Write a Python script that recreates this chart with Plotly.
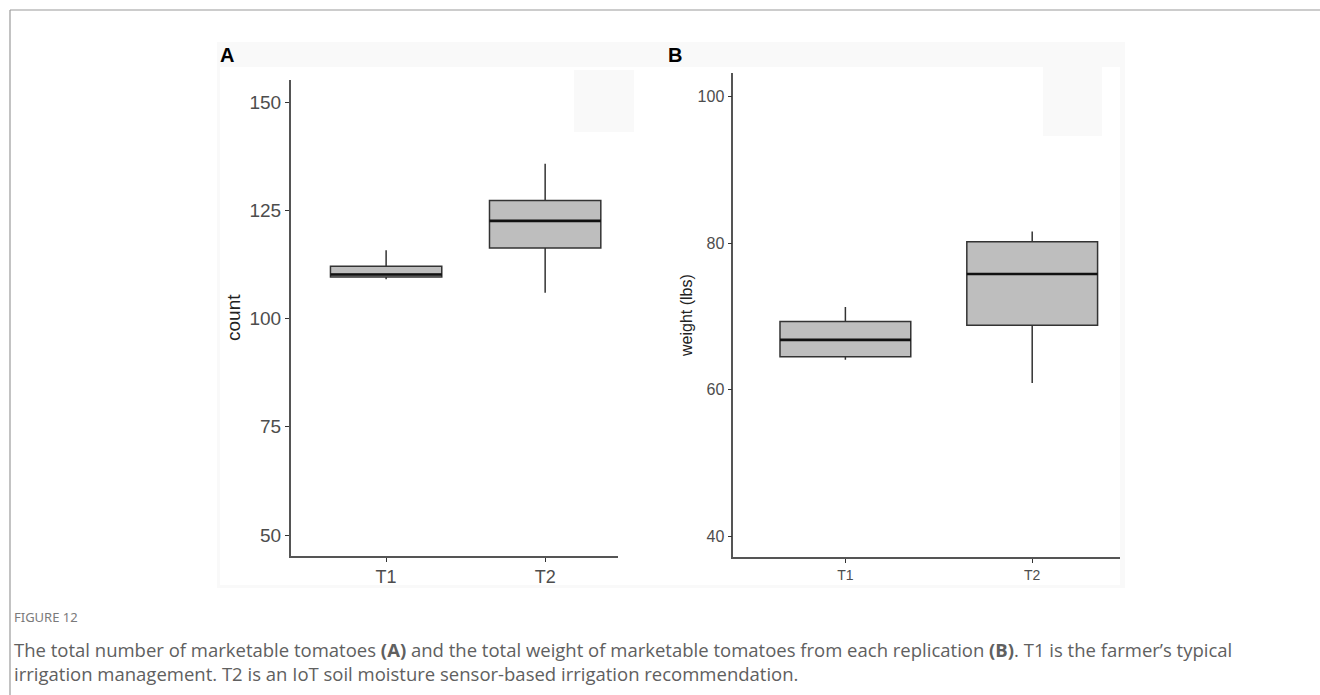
import plotly.graph_objects as go

W, H = 1320, 695

# ---------------- data ----------------
treatments = ["T1", "T2"]

# Panel A: total number of marketable tomatoes (count)
count_lower = [109.1, 106.0]
count_q1 = [109.6, 116.3]
count_median = [110.2, 122.6]
count_q3 = [112.1, 127.3]
count_upper = [115.8, 135.8]
count_ticks = [50, 75, 100, 125, 150]

# Panel B: total weight of marketable tomatoes (lbs)
weight_lower = [64.1, 60.9]
weight_q1 = [64.5, 68.8]
weight_median = [66.8, 75.8]
weight_q3 = [69.3, 80.2]
weight_upper = [71.3, 81.6]
weight_ticks = [40, 60, 80, 100]

caption_label = "FIGURE 12"
caption_text = ("The total number of marketable tomatoes <b>(A)</b> and the total weight of marketable "
                "tomatoes from each replication <b>(B)</b>. T1 is the farmer\u2019s typical<br>"
                "irrigation management. T2 is an IoT soil moisture sensor-based irrigation recommendation.")

BOX_WIDTH = 0.7


def px(x):
    return x / W


def py(y):
    return 1 - y / H


fig = go.Figure()

fig.add_trace(go.Box(
    x=treatments, q1=count_q1, median=count_median, q3=count_q3,
    lowerfence=count_lower, upperfence=count_upper,
    fillcolor="#bebebe", line=dict(color="#333333", width=1.5),
    whiskerwidth=0, boxpoints=False, hoverinfo="y",
    xaxis="x", yaxis="y", showlegend=False,
))
fig.add_trace(go.Box(
    x=treatments, q1=weight_q1, median=weight_median, q3=weight_q3,
    lowerfence=weight_lower, upperfence=weight_upper,
    fillcolor="#bebebe", line=dict(color="#333333", width=1.5),
    whiskerwidth=0, boxpoints=False, hoverinfo="y",
    xaxis="x2", yaxis="y2", showlegend=False,
))

shapes = []
# figure image backdrop
shapes.append(dict(type="rect", xref="paper", yref="paper", x0=px(217), x1=px(1125), y0=py(588), y1=py(42),
                   fillcolor="#f9f9f9", line=dict(width=0), layer="below"))
shapes.append(dict(type="rect", xref="paper", yref="paper", x0=px(220), x1=px(1120), y0=py(585), y1=py(67),
                   fillcolor="#ffffff", line=dict(width=0), layer="below"))
shapes.append(dict(type="rect", xref="paper", yref="paper", x0=px(574), x1=px(634), y0=py(132), y1=py(70),
                   fillcolor="#f9f9f9", line=dict(width=0), layer="below"))
shapes.append(dict(type="rect", xref="paper", yref="paper", x0=px(1043), x1=px(1102), y0=py(136), y1=py(67),
                   fillcolor="#f9f9f9", line=dict(width=0), layer="below"))
# page frame (top and left)
shapes.append(dict(type="line", xref="paper", yref="paper", x0=px(10), x1=1, y0=py(10), y1=py(10),
                   line=dict(color="#9a9a9a", width=1.2)))
shapes.append(dict(type="line", xref="paper", yref="paper", x0=px(10), x1=px(10), y0=0, y1=py(10),
                   line=dict(color="#9a9a9a", width=1.2)))

# thicker median lines (ggplot style), from data
for xa, ya, med in (("x", "y", count_median), ("x2", "y2", weight_median)):
    for i, m in enumerate(med):
        shapes.append(dict(type="line", xref=xa, yref=ya, x0=i - BOX_WIDTH / 2, x1=i + BOX_WIDTH / 2,
                           y0=m, y1=m, line=dict(color="#111111", width=2.6)))

annotations = [
    dict(text="<b>A</b>", x=px(218), y=py(55), xref="paper", yref="paper", xanchor="left", yanchor="middle",
         showarrow=False, font=dict(family="Arial, Liberation Sans", size=20, color="#000000")),
    dict(text="<b>B</b>", x=px(666), y=py(55), xref="paper", yref="paper", xanchor="left", yanchor="middle",
         showarrow=False, font=dict(family="Arial, Liberation Sans", size=20, color="#000000")),
    dict(text="count", x=px(233), y=py(318), xref="paper", yref="paper", textangle=-90,
         xanchor="center", yanchor="middle", showarrow=False,
         font=dict(family="Arial, Liberation Sans", size=19, color="#222222")),
    dict(text="weight (lbs)", x=px(686), y=py(316), xref="paper", yref="paper", textangle=-90,
         xanchor="center", yanchor="middle", showarrow=False,
         font=dict(family="Arial, Liberation Sans", size=16, color="#222222")),
    dict(text=caption_label, x=px(12), y=py(617), xref="paper", yref="paper", xanchor="left", yanchor="middle",
         showarrow=False, font=dict(family="Noto Sans", size=13, color="#7a7a7a")),
    dict(text=caption_text, x=px(12), y=py(635), xref="paper", yref="paper", xanchor="left", yanchor="top",
         align="left", showarrow=False,
         font=dict(family="Open Sans", size=18.5, color="#606060")),
]

axis_common = dict(showgrid=False, zeroline=False, showline=True, linecolor="#555555", linewidth=1.6,
                   ticks="outside", ticklen=4, tickwidth=1.3, tickcolor="#333333", mirror=False)

fig.update_layout(
    width=W, height=H, autosize=False,
    margin=dict(l=0, r=0, t=0, b=0),
    paper_bgcolor="#ffffff", plot_bgcolor="rgba(0,0,0,0)",
    boxgap=1 - BOX_WIDTH, boxgroupgap=0,
    showlegend=False,
    xaxis=dict(domain=[px(290.7), px(618.3)], anchor="y", type="category", range=[-0.6, 1.46],
               tickfont=dict(family="Arial, Liberation Sans", size=18, color="#4d4d4d"), **axis_common),
    yaxis=dict(domain=[py(556), py(80)], anchor="x", range=[45.15, 155.15], tickvals=count_ticks,
               tickfont=dict(family="Arial, Liberation Sans", size=19, color="#4d4d4d"), **axis_common),
    xaxis2=dict(domain=[px(733.3), px(1120)], anchor="y2", type="category", range=[-0.6, 1.47],
                tickfont=dict(family="Arial, Liberation Sans", size=14, color="#4d4d4d"), **axis_common),
    yaxis2=dict(domain=[py(557.3), py(72.7)], anchor="x2", range=[37.1, 103.3], tickvals=weight_ticks,
                tickfont=dict(family="Arial, Liberation Sans", size=16, color="#4d4d4d"), **axis_common),
    shapes=shapes,
    annotations=annotations,
)

fig.write_html("out.html", config={"displayModeBar": False},
               post_script="document.body.style.margin='0';document.body.style.overflow='hidden';")
